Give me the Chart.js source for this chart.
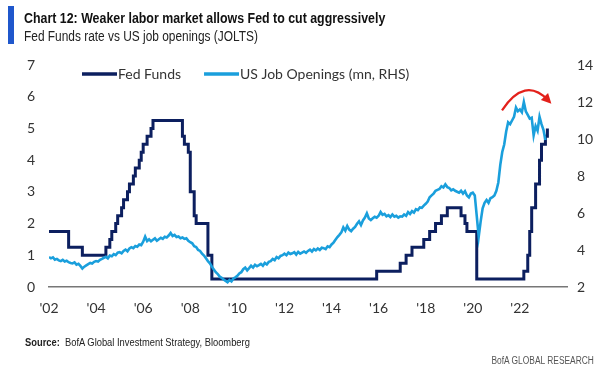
<!DOCTYPE html>
<html>
<head>
<meta charset="utf-8">
<script src="https://cdn.jsdelivr.net/npm/chart.js@4.4.0/dist/chart.umd.min.js"></script>
<style>
  body { margin: 0; width: 602px; height: 375px; background: #fff; position: relative; overflow: hidden;
         font-family: "Liberation Sans", sans-serif; }
  #wrap { position: absolute; left: 0; top: 0; width: 602px; height: 375px; }
  #bar { position: absolute; left: 8px; top: 6px; width: 6px; height: 38px; background: #1f57cc; }
  #title { position: absolute; left: 24px; top: 10px; font-size: 14px; font-weight: bold; color: #111; white-space: nowrap;
           transform: scaleX(0.885); transform-origin: left top; }
  #subtitle { position: absolute; left: 24px; top: 28px; font-size: 14px; color: #222; white-space: nowrap;
              transform: scaleX(0.85); transform-origin: left top; }
  #source { position: absolute; left: 25px; top: 336px; font-size: 11px; color: #222; white-space: nowrap;
            transform: scaleX(0.85); transform-origin: left top; }
  #footer { position: absolute; right: 8px; top: 355px; font-size: 10px; color: #555; white-space: nowrap;
            transform: scaleX(0.84); transform-origin: right top; }
</style>
</head>
<body>
<div id="wrap"><canvas id="chart" width="602" height="375"></canvas></div>
<div id="bar"></div>
<div id="title">Chart 12: Weaker labor market allows Fed to cut aggressively</div>
<div id="subtitle">Fed Funds rate vs US job openings (JOLTS)</div>
<div id="source"><b>Source:</b>&nbsp; BofA Global Investment Strategy, Bloomberg</div>
<div id="footer">BofA GLOBAL RESEARCH</div>
<script>
// Fed Funds target (upper bound): month the new level starts, and the level
var fedMonths = ['2002-01','2002-11','2003-06','2004-06','2004-08','2004-09','2004-11','2004-12',
  '2005-02','2005-03','2005-05','2005-06','2005-08','2005-09','2005-11','2005-12',
  '2006-01','2006-03','2006-05','2006-06','2007-09','2007-10','2007-12','2008-01','2008-03',
  '2008-04','2008-10','2008-12','2015-12','2016-12','2017-03','2017-06','2017-12','2018-03',
  '2018-06','2018-09','2018-12','2019-07','2019-09','2019-10','2020-03','2022-03','2022-05',
  '2022-06','2022-07','2022-09','2022-11','2022-12','2023-02','2023-03'];
var fedRates = [1.75,1.25,1.00,1.25,1.50,1.75,2.00,2.25,
  2.50,2.75,3.00,3.25,3.50,3.75,4.00,4.25,
  4.50,4.75,5.00,5.25,4.75,4.50,4.25,3.00,2.25,
  2.00,1.00,0.25,0.50,0.75,1.00,1.25,1.50,1.75,
  2.00,2.25,2.50,2.25,2.00,1.75,0.25,0.50,1.00,
  1.75,2.50,3.25,4.00,4.50,4.75,5.00];

// JOLTS job openings (mn), monthly from Jan 2002
var joltsStart = '2002-01';
var joltsValues = [
  3.62,3.55,3.60,3.48,3.52,3.44,3.40,3.47,3.38,3.42,3.34,3.30,
  3.28,3.33,3.21,3.25,3.14,3.00,3.10,3.17,3.24,3.30,3.27,3.36,
  3.40,3.37,3.47,3.52,3.58,3.63,3.55,3.70,3.66,3.78,3.72,3.86,
  3.88,3.82,3.95,4.02,3.93,4.08,4.15,4.10,4.22,4.18,4.30,4.26,
  4.45,4.72,4.48,4.58,4.47,4.55,4.63,4.50,4.58,4.66,4.60,4.72,
  4.68,4.78,4.92,4.76,4.82,4.70,4.73,4.64,4.68,4.60,4.63,4.50,
  4.42,4.36,4.20,4.16,4.00,3.95,3.80,3.70,3.55,3.40,3.28,3.10,
  2.95,2.80,2.70,2.56,2.50,2.40,2.33,2.26,2.38,2.30,2.46,2.52,
  2.60,2.73,2.80,2.96,3.05,2.90,3.02,3.15,3.05,3.20,3.12,3.18,
  3.25,3.15,3.30,3.22,3.36,3.40,3.52,3.45,3.62,3.55,3.68,3.72,
  3.80,3.72,3.86,3.78,3.82,3.88,3.75,3.90,3.80,3.86,3.92,3.85,
  3.95,4.02,3.92,4.05,3.98,4.08,4.00,4.12,4.10,4.05,4.20,4.15,
  4.30,4.40,4.55,4.70,4.82,4.95,5.22,5.05,5.30,5.10,5.02,5.15,
  5.25,5.42,5.55,5.35,5.60,5.75,5.98,5.70,5.62,5.72,5.80,5.75,
  5.85,6.05,5.90,5.95,5.82,5.88,5.78,5.92,5.80,5.85,5.75,5.82,
  5.80,5.92,5.85,6.05,5.95,6.10,6.02,6.20,6.15,6.30,6.28,6.40,
  6.50,6.62,6.85,6.95,7.05,7.20,7.25,7.30,7.45,7.38,7.55,7.40,
  7.35,7.22,7.28,7.20,7.15,7.10,7.20,7.05,7.18,6.95,6.85,7.05,
  7.10,6.95,5.85,4.72,5.55,6.25,6.55,6.70,6.55,6.80,6.85,6.95,
  7.20,7.65,8.60,9.30,9.70,10.40,10.90,10.80,11.00,11.20,11.70,11.50,
  11.60,11.45,12.00,11.50,11.30,11.10,11.15,10.20,10.70,10.45,11.20,10.80,
  10.50,9.95];

var xTicks = [2002,2004,2006,2008,2010,2012,2014,2016,2018,2020,2022];
var leftTicks = [0,1,2,3,4,5,6,7];
var rightTicks = [2,4,6,8,10,12,14];

// red arrow annotation: start, bend, end (year, right-axis value)
var arrowYears = [2021.24, 2022.21, 2023.19];
var arrowValues = [11.55, 13.4, 12.1];

var navy = '#0c1f5f';
var skyBlue = '#1a9fdc';
var tickFont = { family: 'Lato', size: 14 };

function monthToYear(m) {
  var parts = m.split('-');
  return Number(parts[0]) + (Number(parts[1]) - 1) / 12;
}

var fedPoints = fedMonths.map(function (m, i) { return { x: monthToYear(m), y: fedRates[i] }; });
var joltsPoints = joltsValues.map(function (v, i) { return { x: monthToYear(joltsStart) + i / 12, y: v }; });

const lineLegend = {
  id: 'lineLegend',
  afterDraw(chart) {
    const ctx = chart.ctx;
    let x = chart.chartArea.left + 33;
    const y = 74;
    ctx.save();
    ctx.font = '14px Lato';
    ctx.textBaseline = 'middle';
    chart.data.datasets.forEach(function (ds) {
      ctx.strokeStyle = ds.borderColor;
      ctx.lineWidth = 3.5;
      ctx.beginPath();
      ctx.moveTo(x, y);
      ctx.lineTo(x + 35, y);
      ctx.stroke();
      ctx.fillStyle = '#333';
      ctx.fillText(ds.label, x + 36, y);
      x += 36 + ctx.measureText(ds.label).width + 23;
    });
    ctx.restore();
  }
};

const redArrow = {
  id: 'redArrow',
  afterDraw(chart) {
    const xs = chart.scales.x, ys = chart.scales.y1, ctx = chart.ctx;
    const p = arrowYears.map(function (yr, i) { return [xs.getPixelForValue(yr), ys.getPixelForValue(arrowValues[i])]; });
    ctx.save();
    ctx.strokeStyle = '#e3211b';
    ctx.fillStyle = '#e3211b';
    ctx.lineWidth = 2.2;
    ctx.beginPath();
    ctx.moveTo(p[0][0], p[0][1]);
    ctx.quadraticCurveTo(p[1][0], p[1][1], p[2][0], p[2][1]);
    ctx.stroke();
    const dx = p[2][0] - p[1][0], dy = p[2][1] - p[1][1];
    const len = Math.sqrt(dx * dx + dy * dy), ux = dx / len, uy = dy / len;
    const tipX = p[2][0] + ux * 5, tipY = p[2][1] + uy * 5;
    ctx.beginPath();
    ctx.moveTo(tipX, tipY);
    ctx.lineTo(tipX - ux * 10 - uy * 5, tipY - uy * 10 + ux * 5);
    ctx.lineTo(tipX - ux * 10 + uy * 5, tipY - uy * 10 - ux * 5);
    ctx.closePath();
    ctx.fill();
    ctx.restore();
  }
};

const ctx = document.getElementById('chart').getContext('2d');
new Chart(ctx, {
  type: 'line',
  data: {
    datasets: [{
      label: 'Fed Funds',
      data: fedPoints,
      yAxisID: 'y',
      borderColor: navy,
      borderWidth: 3,
      stepped: true,
      pointRadius: 0,
      order: 1
    }, {
      label: 'US Job Openings (mn, RHS)',
      data: joltsPoints,
      yAxisID: 'y1',
      borderColor: skyBlue,
      borderWidth: 2.6,
      pointRadius: 0,
      tension: 0,
      order: 0
    }]
  },
  options: {
    responsive: false,
    animation: false,
    devicePixelRatio: 1,
    layout: { padding: { top: 65, bottom: 58, left: 0, right: 0 } },
    plugins: { legend: { display: false }, tooltip: { enabled: false } },
    scales: {
      x: {
        type: 'linear',
        min: 2002,
        max: 2024,
        afterBuildTicks: function (s) { s.ticks = xTicks.map(function (v) { return { value: v }; }); },
        afterFit: function (s) { s.height = 30; },
        grid: { display: false, drawTicks: false },
        border: { display: true, color: '#777', width: 1.5 },
        ticks: {
          autoSkip: false, maxRotation: 0, padding: 13, color: '#333', font: tickFont,
          callback: function (v) { return "'" + String(v).slice(2); }
        }
      },
      y: {
        position: 'left',
        min: 0,
        max: 7,
        afterBuildTicks: function (s) { s.ticks = leftTicks.map(function (v) { return { value: v }; }); },
        afterFit: function (s) { s.width = 49; },
        grid: { display: false, drawTicks: false },
        border: { display: false },
        ticks: { padding: 14, color: '#333', font: tickFont }
      },
      y1: {
        position: 'right',
        min: 2,
        max: 14,
        afterBuildTicks: function (s) { s.ticks = rightTicks.map(function (v) { return { value: v }; }); },
        afterFit: function (s) { s.width = 35; },
        grid: { display: false, drawTicks: false },
        border: { display: false },
        ticks: { padding: 10, color: '#333', font: tickFont }
      }
    }
  },
  plugins: [lineLegend, redArrow]
});
</script>
</body>
</html>
